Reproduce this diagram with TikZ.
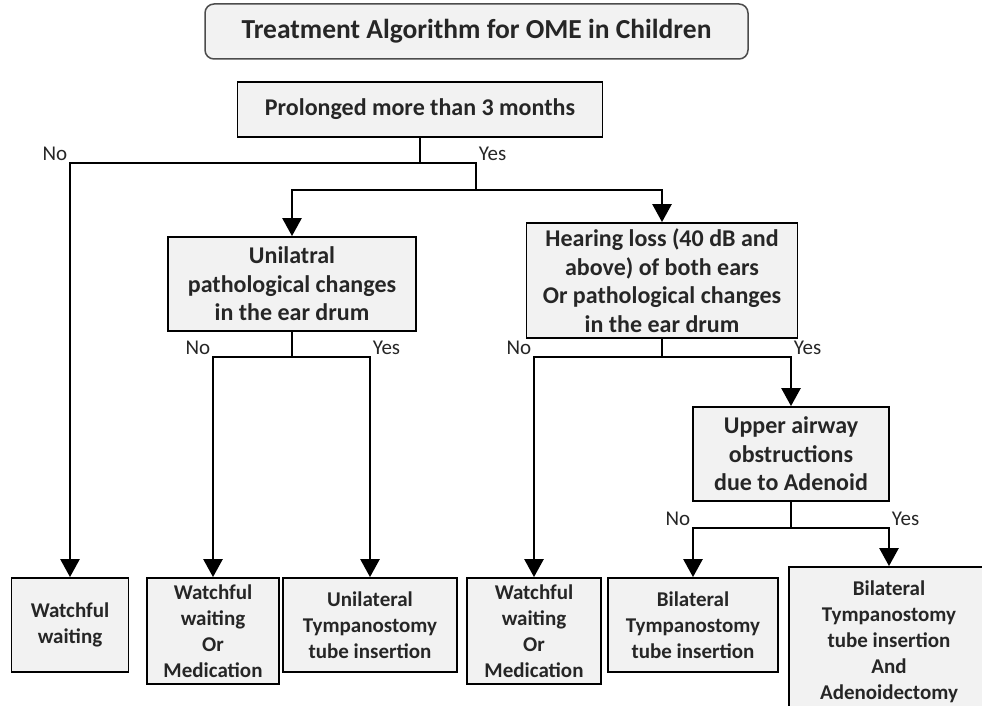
\documentclass[tikz,border=0pt]{standalone}
\usepackage{fontspec}
\setmainfont{Carlito}
\usetikzlibrary{arrows.meta}
\definecolor{boxfill}{HTML}{F2F2F2}
\definecolor{inkgray}{HTML}{262626}

\begin{document}
\begin{tikzpicture}[x=1pt, y=-1pt,
        box/.style={draw, line width=1.8pt, fill=boxfill, align=center, inner sep=2pt, text=inkgray},
        dec/.style={box, font=\bfseries\fontsize{24}{28.5}\selectfont},
        leaf/.style={box, font=\bfseries\fontsize{21}{26}\selectfont},
        conn/.style={line width=2.6pt},
        arr/.style={conn, -{Triangle[width=19pt,length=18pt]}},
        lab/.style={font=\fontsize{21}{24}\selectfont, inner sep=1.5pt, text=inkgray}]

            \useasboundingbox (0,0) rectangle (982,706);

            \node[draw=black!70, line width=1.5pt, fill=boxfill, rounded corners=9pt, minimum width=543pt, minimum height=55pt,
                  font=\bfseries\fontsize{27.5}{32}\selectfont, text=inkgray] (title) at (476.5,31.5) {Treatment Algorithm for OME in Children};

            \node[dec, minimum width=365pt, minimum height=55pt] (prol) at (420,109.5) {Prolonged more than 3 months};
            \node[dec, minimum width=248pt, minimum height=94pt] (uni) at (292,284) {Unilatral\\pathological changes\\in the ear drum};
            \node[dec, minimum width=271pt, minimum height=115pt] (hear) at (662,280.5) {Hearing loss (40 dB and\\above) of both ears\\Or pathological changes\\in the ear drum};
            \node[dec, minimum width=196pt, minimum height=94pt] (upper) at (791,454) {Upper airway\\obstructions\\due to Adenoid};

            \node[leaf, minimum width=117pt, minimum height=94pt] (ww) at (70,625) {Watchful\\waiting};
            \node[leaf, minimum width=132pt, minimum height=106pt] (wwmA) at (213,631) {Watchful\\waiting\\Or\\Medication};
            \node[leaf, minimum width=174pt, minimum height=94pt] (uti) at (370,625) {Unilateral\\Tympanostomy\\tube insertion};
            \node[leaf, minimum width=134pt, minimum height=106pt] (wwmB) at (534,631) {Watchful\\waiting\\Or\\Medication};
            \node[leaf, minimum width=170pt, minimum height=94pt] (bti) at (693,625) {Bilateral\\Tympanostomy\\tube insertion};
            \node[leaf, minimum width=200pt, minimum height=150pt] (btia) at (889,642) {Bilateral\\Tympanostomy\\tube insertion\\And\\Adenoidectomy};

            \coordinate (jprol) at (420,163);
            \coordinate (jyes) at (476,190);
            \coordinate (juni) at (292,357);
            \coordinate (jhear) at (662,357);
            \coordinate (jup) at (791,528);

            \draw[conn] (prol.south) -- (jprol);
            \draw[arr] (jprol) -| node[lab, pos=0.5, above left]{No} (ww.north);
            \draw[conn] (jprol) -| node[lab, pos=0.5, above right]{Yes} (jyes);
            \draw[arr] (jyes) -| (uni.north);
            \draw[arr] (jyes) -| (hear.north);

            \draw[conn] (uni.south) -- (juni);
            \draw[arr] (juni) -| node[lab, pos=0.5, above left]{No} (wwmA.north);
            \draw[arr] (juni) -| node[lab, pos=0.5, above right]{Yes} (uti.north);

            \draw[conn] (hear.south) -- (jhear);
            \draw[arr] (jhear) -| node[lab, pos=0.5, above left]{No} (wwmB.north);
            \draw[arr] (jhear) -| node[lab, pos=0.5, above right]{Yes} (upper.north);

            \draw[conn] (upper.south) -- (jup);
            \draw[arr] (jup) -| node[lab, pos=0.5, above left]{No} (bti.north);
            \draw[arr] (jup) -| node[lab, pos=0.5, above right]{Yes} (btia.north);

\end{tikzpicture}
\end{document}
